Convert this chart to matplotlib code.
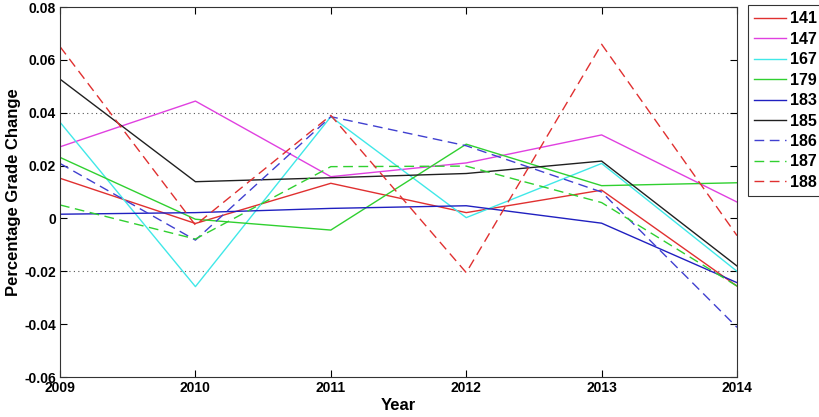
import matplotlib
matplotlib.use("Agg")
import matplotlib.pyplot as plt

plt.rcParams["font.family"] = ["Liberation Sans", "DejaVu Sans"]

years = [2009, 2010, 2011, 2012, 2013, 2014]
labels = ["141", "147", "167", "179", "183", "185", "186", "187", "188"]

s141 = [0.0152, -0.0019, 0.0133, 0.0022, 0.0107, -0.0256]
s147 = [0.0271, 0.0444, 0.0158, 0.0210, 0.0316, 0.0062]
s167 = [0.0364, -0.0258, 0.0385, 0.0003, 0.0208, -0.0200]
s179 = [0.0231, -0.0003, -0.0044, 0.0281, 0.0124, 0.0135]
s183 = [0.0016, 0.0022, 0.0038, 0.0048, -0.0018, -0.0243]
s185 = [0.0527, 0.0139, 0.0154, 0.0170, 0.0217, -0.0180]
s186 = [0.0208, -0.0082, 0.0385, 0.0275, 0.0100, -0.0412]
s187 = [0.0051, -0.0078, 0.0196, 0.0198, 0.0060, -0.0256]
s188 = [0.0650, -0.0025, 0.0390, -0.0205, 0.0659, -0.0065]

series = [s141, s147, s167, s179, s183, s185, s186, s187, s188]
colors = ["#e03030", "#e040e0", "#40e8e8", "#30d030", "#2020c0",
          "#202020", "#4040d0", "#30d030", "#e03030"]
styles = ["-", "-", "-", "-", "-", "-", "--", "--", "--"]

fig = plt.figure(figsize=(8.2, 4.17), dpi=100)
ax = fig.add_axes([0.0732, 0.0959, 0.8256, 0.8873])

for ys, lab, c, ls in zip(series, labels, colors, styles):
    kw = dict(dashes=(7, 4)) if ls == "--" else {}
    ax.plot(years, ys, color=c, linestyle=ls, linewidth=1.0, label=lab, **kw)

for g in (0.04, -0.02):
    ax.axhline(g, color="#555555", linestyle=(0, (1, 3)), linewidth=0.8, zorder=0)

ax.set_xlim(2009, 2014)
ax.set_ylim(-0.06, 0.08)
ax.set_xticks(years)
ax.set_yticks([-0.06, -0.04, -0.02, 0, 0.02, 0.04, 0.06, 0.08])
ax.set_yticklabels(["-0.06", "-0.04", "-0.02", "0", "0.02", "0.04", "0.06", "0.08"])
ax.tick_params(direction="in", top=True, right=True, length=5, width=0.8,
               labelsize=10, pad=3)
for t in ax.get_xticklabels() + ax.get_yticklabels():
    t.set_fontweight("bold")
for sp in ax.spines.values():
    sp.set_linewidth(0.8)
    sp.set_color("#333333")

ax.set_xlabel("Year", fontsize=12, fontweight="bold", labelpad=2)
ax.set_ylabel("Percentage Grade Change", fontsize=12, fontweight="bold", labelpad=2)

leg = fig.legend(loc="upper left", bbox_to_anchor=(748 / 820, 1 - 5 / 417),
                 borderaxespad=0, frameon=True, fancybox=False, edgecolor="black",
                 prop=dict(weight="bold", size=11.5), handlelength=2.0,
                 borderpad=0.4, labelspacing=0.34, handletextpad=0.2)
leg.get_frame().set_linewidth(0.8)

fig.savefig("out.png", dpi=100)
